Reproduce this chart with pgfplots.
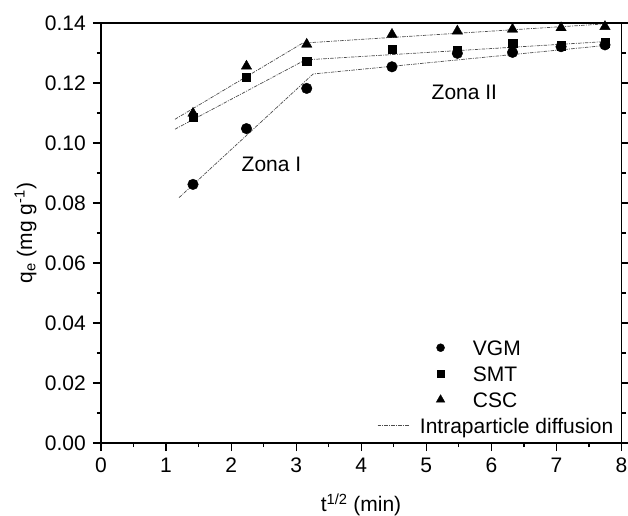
\documentclass[border=0pt]{standalone}
\usepackage{fontspec}
\setmainfont{Liberation Sans}
\usepackage{pgfplots}
\pgfplotsset{compat=1.18}
\begin{document}
\fontsize{21bp}{25bp}\selectfont
\begin{tikzpicture}
\begin{axis}[
  name=ax,
  scale only axis,
  width=520.5bp, height=420bp,
  xmin=0, xmax=8, ymin=0, ymax=0.14,
  xtick={0,1,2,3,4,5,6,7,8}, minor x tick num=1,
  ytick={0,0.02,0.04,0.06,0.08,0.10,0.12,0.14}, minor y tick num=1,
  xtick pos=bottom, ytick pos=both,
  tick align=outside,
  major tick length=8bp, minor tick length=4bp,
  axis line style={line width=1.2bp},
  every tick/.append style={line width=1.2bp, black},
  scaled y ticks=false,
  yticklabel style={/pgf/number format/fixed, /pgf/number format/fixed zerofill, /pgf/number format/precision=2},
  /pgf/number format/assume math mode=true,
  tick label style={font=\fontsize{21bp}{25bp}\selectfont},
  xlabel={t\textsuperscript{1/2} (min)},
  ylabel={q\textsubscript{e} (mg g\textsuperscript{-1})},
  every axis x label/.style={at={(axis description cs:0.4995,-0.164)}, anchor=base},
  every axis y label/.style={at={(axis description cs:-0.145,0.5)}, anchor=center, rotate=90},
  label style={font=\fontsize{21bp}{25bp}\selectfont},
  legend cell align=left,
  legend style={draw=none, fill=none, inner sep=0pt, at={(axis description cs:0.5303,0.2452)}, anchor=north west,
    column sep=11bp, row sep=11bp,
    nodes={inner sep=0pt, text height=15bp, text depth=0bp, font=\fontsize{21bp}{25bp}\selectfont}},
  ipd/.style={color=black!70, line width=0.7bp, dash pattern=on 3.5bp off 1.2bp on 1bp off 1.2bp, mark=none},
]
\addplot[only marks, mark=*, mark size=5.3bp, black,
  legend image code/.code={\draw[overlay, black, fill=black] plot[only marks, mark=*, mark size=4bp] coordinates {(63bp,0bp)};}]
  coordinates {(1.414,0.0862)(2.236,0.1048)(3.162,0.1182)(4.472,0.1254)(5.477,0.1299)(6.325,0.1302)(7.071,0.1321)(7.746,0.1327)};
\addlegendentry{\hspace*{53bp}VGM}
\addplot[only marks, mark=square*, mark size=4.2bp, black,
  legend image code/.code={\draw[overlay, black, fill=black] plot[only marks, mark=square*, mark size=3.4bp] coordinates {(63bp,0bp)};}]
  coordinates {(1.414,0.1086)(2.236,0.1219)(3.162,0.1273)(4.472,0.1312)(5.477,0.1310)(6.325,0.1332)(7.071,0.1324)(7.746,0.1334)};
\addlegendentry{\hspace*{53bp}SMT}
\addplot[only marks, mark=triangle*, mark size=6bp, black,
  legend image code/.code={\draw[overlay, black, fill=black] plot[only marks, mark=triangle*, mark size=5bp] coordinates {(63bp,0bp)};}]
  coordinates {(1.414,0.1099)(2.236,0.1256)(3.162,0.1329)(4.472,0.1362)(5.477,0.1373)(6.325,0.1379)(7.071,0.1384)(7.746,0.1388)};
\addlegendentry{\hspace*{53bp}CSC}
\addplot[ipd, legend image code/.code={\draw[color=black!70, line width=0.7bp, dash pattern=on 3.5bp off 1.2bp on 1bp off 1.2bp] (0bp,0bp) -- (31bp,0bp);}]
  coordinates {(1.20,0.0818)(3.26,0.1230)(7.75,0.1325)};
\addlegendentry{Intraparticle diffusion}
\addplot[ipd, forget plot] coordinates {(1.137,0.1046)(3.14,0.1277)(7.75,0.1338)};
\addplot[ipd, forget plot] coordinates {(1.137,0.1079)(3.10,0.1333)(7.75,0.1397)};
\node[anchor=west, inner sep=0pt, font=\fontsize{21bp}{25bp}\selectfont] at (axis cs:2.16,0.093) {Zona I};
\node[anchor=west, inner sep=0pt, font=\fontsize{21bp}{25bp}\selectfont] at (axis cs:5.08,0.1168) {Zona II};
\end{axis}
\pgfresetboundingbox
\path[use as bounding box] ([shift={(-101bp,-73bp)}]ax.south west) rectangle ([shift={(527bp,443bp)}]ax.south west);
\end{tikzpicture}
\end{document}
